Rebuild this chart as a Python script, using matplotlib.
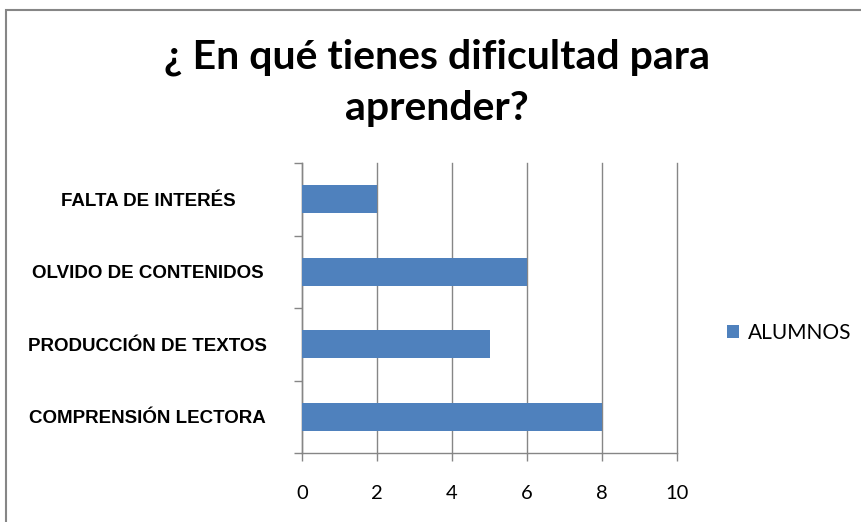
import numpy as np
from matplotlib import pyplot as plt
from matplotlib.patches import Rectangle

# data
categorias = ['COMPRENSIÓN LECTORA', 'PRODUCCIÓN DE TEXTOS', 'OLVIDO DE CONTENIDOS', 'FALTA DE INTERÉS']
alumnos = [8, 5, 6, 2]
serie = 'ALUMNOS'
titulo = '¿ En qué tienes dificultad para\naprender?'
x_ticks = [0, 2, 4, 6, 8, 10]

azul = '#4F81BD'
gris = '#868686'

fig = plt.figure(figsize=(8.62, 5.22), dpi=100)
# outer chart frame
fig.patches.append(Rectangle((6/862, -0.5), 2.0, 1.5 - 10/522, transform=fig.transFigure,
                             fill=False, edgecolor=gris, linewidth=1.5))

ax = fig.add_axes([302/862, 69/522, 375/862, 290/522])
y = np.arange(len(categorias))
ax.barh(y, alumnos, height=0.39, color=azul, label=serie, zorder=3)

ax.set_xlim(0, 10)
ax.set_ylim(-0.5, len(categorias) - 0.5)
ax.set_xticks(x_ticks)
ax.set_xticklabels([str(t) for t in x_ticks], fontfamily='Lato', fontsize=14.5)
ax.tick_params(axis='x', length=6, width=1, color=gris, pad=17)
ax.grid(axis='x', color=gris, linewidth=1, zorder=0)
for l in ax.get_xgridlines():
    l.set_clip_on(False)

ax.set_yticks(y)
ax.set_yticklabels(categorias, fontfamily='Liberation Sans', fontweight='bold', fontsize=13.5, ha='center')
ax.tick_params(axis='y', which='major', length=0, pad=111)
ax.set_yticks(np.arange(-0.5, len(categorias)), minor=True)
ax.tick_params(axis='y', which='minor', length=6, width=1, color=gris)

for s in ['top', 'right']:
    ax.spines[s].set_visible(False)
for s in ['left', 'bottom']:
    ax.spines[s].set_color(gris)
    ax.spines[s].set_linewidth(1)

fig.text(437/862, 1 - 83/522, titulo, ha='center', va='center', fontfamily='Lato',
         fontweight='bold', fontsize=29.5, linespacing=1.45)

ax.legend(loc='center left', bbox_to_anchor=(727/862, 1 - 333/522), bbox_transform=fig.transFigure,
          frameon=False, prop={'family': 'Lato', 'size': 15}, handlelength=0.6, handleheight=0.6,
          handletextpad=0.4, borderaxespad=0, borderpad=0)

fig.savefig('out.png', dpi=100)
